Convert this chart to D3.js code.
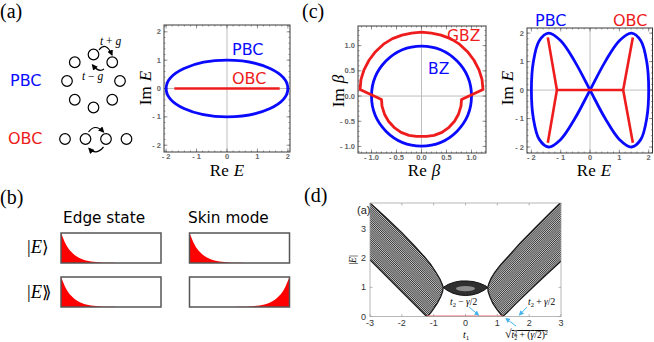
<!DOCTYPE html>
<html>
<head>
<meta charset="utf-8">
<script src="https://cdn.jsdelivr.net/npm/d3@7"></script>
<style>
  body { margin: 0; background: #fff; }
  svg { display: block; }
</style>
</head>
<body>
<div id="wrapper"></div>
<script>
// ---------------- data ----------------
// (a) Hatano-Nelson spectrum
const pbcEllipse = {cx: 0, cy: 0, rx: 2, ry: 1}
const obcSegment = [[-1.73, 0], [1.73, 0]]
const ticksA = [-2, -1, 0, 1, 2]

// (b) wavefunction profile along the chain (site -> amplitude)
const siteProfile = [1, 0.62, 0.38, 0.23, 0.14, 0.085, 0.052, 0.032, 0.02, 0.012, 0.007, 0.004, 0.002, 0.001, 0, 0, 0, 0, 0, 0, 0]

// (c) BZ / GBZ
const bzRadius = 1
const gbzPoints = [[1.23,0.13],[1.21,0.33],[1.15,0.52],[1.05,0.71],[0.92,0.88],[0.76,1.03],[0.58,1.14],[0.39,1.21],[0.2,1.25],[0,1.27],
    [-0.2,1.25],[-0.39,1.21],[-0.58,1.14],[-0.76,1.03],[-0.92,0.88],[-1.05,0.71],[-1.15,0.52],[-1.21,0.33],[-1.23,0.13],
    [-0.8,-0.07],[-0.79,-0.2],[-0.74,-0.36],[-0.66,-0.5],[-0.55,-0.62],[-0.41,-0.72],[-0.25,-0.78],[-0.1,-0.8],[0,-0.8],
    [0.1,-0.8],[0.25,-0.78],[0.41,-0.72],[0.55,-0.62],[0.66,-0.5],[0.74,-0.36],[0.79,-0.2],[0.8,-0.07]]
const ticksBeta = [-1, -0.5, 0, 0.5, 1]

// (c) figure-eight PBC spectrum and OBC branches
const pbcEight = [[2,0],[1.932,1],[1.732,1.732],[1.414,2],[1,1.732],[0.518,1],[0,0],[-0.518,-1],[-1,-1.732],[-1.414,-2],[-1.732,-1.732],[-1.932,-1],
    [-2,0],[-1.932,1],[-1.732,1.732],[-1.414,2],[-1,1.732],[-0.518,1],[0,0],[0.518,-1],[1,-1.732],[1.414,-2],[1.732,-1.732],[1.932,-1]]
const obcBranches = [
    [[-1.44,1.85],[-1.13,0],[-1.44,-1.85]],
    [[-1.13,0],[1.13,0]],
    [[1.46,1.85],[1.13,0],[1.46,-1.85]]
]

// (d) |E| vs t1 band envelopes
const bandLeft = [[-3.05,3.95],[-2.5,3.4],[-2,2.88],[-1.6,2.42],[-1.3,2.06],[-1.1,1.8],[-0.93,1.52],[-0.8,1.28],[-0.73,1.1],[-0.7,1.0],
    [-0.72,0.86],[-0.78,0.68],[-0.88,0.47],[-1.0,0.27],[-1.1,0.12],[-1.18,0.03],[-1.22,0],[-2.0,0.85],[-3.05,2.0]]
const bandRight = [[0.7,1.0],[0.73,1.12],[0.8,1.3],[0.92,1.52],[1.1,1.77],[1.35,2.07],[1.7,2.5],[2.2,3.06],[2.6,3.5],[3.05,3.98],
    [3.05,1.95],[2.5,1.4],[2.0,0.88],[1.6,0.46],[1.3,0.13],[1.17,0],[1.1,0.08],[0.98,0.25],[0.86,0.45],[0.77,0.67],[0.71,0.86]]
const bandLens = [[-0.7,1.0],[-0.55,1.1],[-0.35,1.18],[-0.15,1.22],[0.05,1.22],[0.25,1.2],[0.45,1.14],[0.6,1.07],[0.7,1.0],
    [0.58,0.9],[0.4,0.8],[0.2,0.74],[0,0.72],[-0.2,0.74],[-0.4,0.8],[-0.58,0.9]]
const lensCore = {cx: 0, cy: 0.96, rx: 0.3, ry: 0.09}
const zeroModes = [[-1.22,0],[1.17,0]]
const ticksT1 = [-3, -2, -1, 0, 1, 2, 3]
const ticksAbsE = [0, 1, 2, 3]

// ---------------- drawing ----------------
const BLUE = "#0a0aff"
const RED = "#ee1c1c"
const serif = "'Liberation Serif', 'DejaVu Serif', serif"
const sans = "'DejaVu Sans', 'Liberation Sans', sans-serif"

const svg = d3.select("#wrapper").append("svg")
    .attr("width", 654)
    .attr("height", 342)
svg.append("rect").attr("width", 654).attr("height", 342).attr("fill", "#fff")

const defs = svg.append("defs")
function marker(id, color, size) {
    defs.append("marker")
        .attr("id", id)
        .attr("viewBox", "0 0 10 10")
        .attr("refX", 8).attr("refY", 5)
        .attr("markerWidth", size).attr("markerHeight", size)
        .attr("orient", "auto")
        .append("path").attr("d", "M0,0 L10,5 L0,10 z").attr("fill", color)
}
marker("ahBlack", "#000", 5)
marker("ahBlue", "#45b5ee", 5)

// dense striped fill for the many eigenvalue curves
function hatch(id, angle) {
    const p = defs.append("pattern")
        .attr("id", id)
        .attr("patternUnits", "userSpaceOnUse")
        .attr("width", 4).attr("height", 1.5)
        .attr("patternTransform", "rotate(" + angle + ")")
    p.append("rect").attr("width", 4).attr("height", 1.5).attr("fill", "#c8c8c8")
    p.append("line").attr("x1", 0).attr("x2", 4).attr("y1", 0.4).attr("y2", 0.4)
        .attr("stroke", "#1e1e1e").attr("stroke-width", 0.75)
}
hatch("hatchL", 45)
hatch("hatchR", -45)

function panelLabel(x, y, t) {
    svg.append("text").attr("x", x).attr("y", y)
        .attr("font-family", serif).attr("font-size", 20).text(t)
}

// label like "Re E" / "Im β"
function mathLabel(x, y, pre, sym, rotate) {
    const t = svg.append("text")
        .attr("font-family", serif).attr("font-size", 17)
        .attr("text-anchor", "middle")
        .attr("transform", "translate(" + x + "," + y + ")" + (rotate ? " rotate(-90)" : ""))
    t.append("tspan").text(pre)
    t.append("tspan").attr("dx", 5).attr("font-style", "italic").text(sym)
}

// Mathematica style frame
function mmaFrame(x, y, xt, yt, fmt, minorStep) {
    const g = svg.append("g")
    const [x0, x1] = x.range(), [y0, y1] = y.range()
    g.append("line").attr("x1", x(0)).attr("x2", x(0)).attr("y1", y0).attr("y2", y1)
        .attr("stroke", "#b8b8b8").attr("stroke-width", 0.9)
    g.append("line").attr("x1", x0).attr("x2", x1).attr("y1", y(0)).attr("y2", y(0))
        .attr("stroke", "#b8b8b8").attr("stroke-width", 0.9)
    const minorX = d3.range(Math.ceil(x.domain()[0] / minorStep), Math.floor(x.domain()[1] / minorStep) + 1).map(i => i * minorStep)
    const minorY = d3.range(Math.ceil(y.domain()[0] / minorStep), Math.floor(y.domain()[1] / minorStep) + 1).map(i => i * minorStep)
    const tk = g.append("g").attr("stroke", "#555").attr("stroke-width", 0.6)
    minorX.forEach(v => {
        tk.append("line").attr("x1", x(v)).attr("x2", x(v)).attr("y1", y0).attr("y2", y0 - 1.5)
        tk.append("line").attr("x1", x(v)).attr("x2", x(v)).attr("y1", y1).attr("y2", y1 + 1.5)
    })
    minorY.forEach(v => {
        tk.append("line").attr("y1", y(v)).attr("y2", y(v)).attr("x1", x0).attr("x2", x0 + 1.5)
        tk.append("line").attr("y1", y(v)).attr("y2", y(v)).attr("x1", x1).attr("x2", x1 - 1.5)
    })
    xt.forEach(v => {
        tk.append("line").attr("x1", x(v)).attr("x2", x(v)).attr("y1", y0).attr("y2", y0 - 3.5)
        tk.append("line").attr("x1", x(v)).attr("x2", x(v)).attr("y1", y1).attr("y2", y1 + 3.5)
    })
    yt.forEach(v => {
        tk.append("line").attr("y1", y(v)).attr("y2", y(v)).attr("x1", x0).attr("x2", x0 + 3.5)
        tk.append("line").attr("y1", y(v)).attr("y2", y(v)).attr("x1", x1).attr("x2", x1 - 3.5)
    })
    g.append("rect").attr("x", x0).attr("y", y1).attr("width", x1 - x0).attr("height", y0 - y1)
        .attr("fill", "none").attr("stroke", "#3a3a3a").attr("stroke-width", 1)
    const lab = g.append("g").attr("font-family", "'Liberation Sans', sans-serif")
        .attr("font-size", 7.5).attr("fill", "#666").attr("font-weight", "bold")
    xt.forEach(v => lab.append("text").attr("x", x(v)).attr("y", y0 + 7)
        .attr("text-anchor", "middle").text(fmt(v)))
    yt.forEach(v => lab.append("text").attr("x", x0 - 3).attr("y", y(v) + 2.6)
        .attr("text-anchor", "end").text(fmt(v)))
}
const fmtInt = v => (v < 0 ? "- " + (-v) : "" + v)
const fmtDec = v => (v < 0 ? "- " + (-v).toFixed(1) : v.toFixed(1))

// ---------- panel (a) ----------
panelLabel(0, 18, "(a)")

const ringC = [93.5, 81], ringR = 26.5
d3.range(8).forEach(i => {
    const a = -Math.PI / 2 + i * Math.PI / 4
    svg.append("circle").attr("cx", ringC[0] + ringR * Math.cos(a)).attr("cy", ringC[1] + ringR * Math.sin(a))
        .attr("r", 5.3).attr("fill", "none").attr("stroke", "#000").attr("stroke-width", 1.2)
});
[65, 85.5, 106, 126.5].forEach(cx => {
    svg.append("circle").attr("cx", cx).attr("cy", 139).attr("r", 5.3)
        .attr("fill", "none").attr("stroke", "#000").attr("stroke-width", 1.2)
})
const hop = [
    "M99,50 Q106,41 112,55",
    "M104,69 Q99,73 92.5,65",
    "M88.5,132 Q95,123 103.5,132",
    "M103.5,147 Q96,156 89,148.5"
]
hop.forEach(d => svg.append("path").attr("d", d).attr("fill", "none")
    .attr("stroke", "#000").attr("stroke-width", 1.2).attr("marker-end", "url(#ahBlack)"))

function hopLabel(x, y, sign) {
    const t = svg.append("text").attr("x", x).attr("y", y)
        .attr("font-family", serif).attr("font-size", 11.5)
    t.append("tspan").attr("font-style", "italic").text("t")
    t.append("tspan").text(" " + sign + " ")
    t.append("tspan").attr("font-style", "italic").text("g")
}
hopLabel(100, 45, "+")
hopLabel(82, 80, "\u2212")

svg.append("text").attr("x", 10).attr("y", 86).attr("font-family", sans).attr("font-size", 16)
    .attr("fill", BLUE).text("PBC")
svg.append("text").attr("x", 8).attr("y", 144).attr("font-family", sans).attr("font-size", 16)
    .attr("fill", RED).text("OBC")

const xA = d3.scaleLinear().domain([-2.07, 2.07]).range([164, 290])
const yA = d3.scaleLinear().domain([-2.24, 2.24]).range([152, 25])
mmaFrame(xA, yA, ticksA, ticksA, fmtInt, 0.2)
svg.append("ellipse")
    .attr("cx", xA(pbcEllipse.cx)).attr("cy", yA(pbcEllipse.cy))
    .attr("rx", xA(pbcEllipse.rx) - xA(0)).attr("ry", yA(0) - yA(pbcEllipse.ry))
    .attr("fill", "none").attr("stroke", BLUE).attr("stroke-width", 2.8)
svg.append("path")
    .attr("d", d3.line().x(d => xA(d[0])).y(d => yA(d[1]))(obcSegment))
    .attr("stroke", RED).attr("stroke-width", 2.6)
svg.append("text").attr("x", 232).attr("y", 55).attr("font-family", sans).attr("font-size", 16)
    .attr("fill", BLUE).text("PBC")
svg.append("text").attr("x", 232).attr("y", 84).attr("font-family", sans).attr("font-size", 16)
    .attr("fill", RED).text("OBC")
mathLabel(151, 88, "Im", "E", true)
mathLabel(227, 176, "Re", "E", false)

// ---------- panel (b) ----------
panelLabel(0, 204, "(b)")
svg.append("text").attr("x", 63).attr("y", 223).attr("font-family", sans).attr("font-size", 15.3).text("Edge state")
svg.append("text").attr("x", 188).attr("y", 223).attr("font-family", sans).attr("font-size", 15.3).text("Skin mode")

function ketLabel(y, bra) {
    const t = svg.append("text").attr("x", 27).attr("y", y)
        .attr("font-family", serif).attr("font-size", 18.5)
    t.append("tspan").text("|")
    t.append("tspan").attr("font-style", "italic").text("E")
    t.append("tspan").attr("font-family", "'DejaVu Serif', serif").attr("font-size", 17).text(bra)
}
ketLabel(253, "\u27E9")
ketLabel(298, "\u27EB")

const boxes = [
    {x: 61, y: 233, flip: false},
    {x: 189.5, y: 233, flip: false},
    {x: 61, y: 277, flip: false},
    {x: 189.5, y: 277, flip: true}
]
const boxW = 100, boxH = 30
boxes.forEach(b => {
    const xs = d3.scaleLinear().domain([0, siteProfile.length - 1])
        .range(b.flip ? [b.x + boxW, b.x] : [b.x, b.x + boxW])
    const ys = d3.scaleLinear().domain([0, 1]).range([b.y + boxH, b.y])
    svg.append("path")
        .attr("d", d3.area().x((d, i) => xs(i)).y0(ys(0)).y1(d => ys(d)).curve(d3.curveMonotoneX)(siteProfile))
        .attr("fill", "#ff0000")
    svg.append("rect").attr("x", b.x).attr("y", b.y).attr("width", boxW).attr("height", boxH)
        .attr("fill", "none").attr("stroke", "#555").attr("stroke-width", 1.5)
})

// ---------- panel (c) left ----------
panelLabel(302, 18, "(c)")
const xB = d3.scaleLinear().domain([-1.27, 1.29]).range([358, 486])
const yB = d3.scaleLinear().domain([-1.13, 1.39]).range([153, 26])
mmaFrame(xB, yB, ticksBeta, ticksBeta, fmtDec, 0.1)
svg.append("circle").attr("cx", xB(0)).attr("cy", yB(0)).attr("r", xB(bzRadius) - xB(0))
    .attr("fill", "none").attr("stroke", BLUE).attr("stroke-width", 2.8)
svg.append("path")
    .attr("d", d3.line().x(d => xB(d[0])).y(d => yB(d[1])).curve(d3.curveLinearClosed)(gbzPoints))
    .attr("fill", "none").attr("stroke", RED).attr("stroke-width", 2.8).attr("stroke-linejoin", "round")
svg.append("text").attr("x", 447).attr("y", 41).attr("font-family", sans).attr("font-size", 15.5)
    .attr("fill", RED).text("GBZ")
svg.append("text").attr("x", 428).attr("y", 74).attr("font-family", sans).attr("font-size", 15.5)
    .attr("fill", BLUE).text("BZ")
mathLabel(344, 91, "Im", "\u03B2", true)
mathLabel(424, 176, "Re", "\u03B2", false)

// ---------- panel (c) right ----------
const xC = d3.scaleLinear().domain([-2.15, 2.13]).range([527, 652.5])
const yC = d3.scaleLinear().domain([-2.21, 2.18]).range([153, 28])
mmaFrame(xC, yC, ticksA, ticksA, fmtInt, 0.2)
svg.append("path")
    .attr("d", d3.line().x(d => xC(d[0])).y(d => yC(d[1])).curve(d3.curveCatmullRomClosed)(pbcEight))
    .attr("fill", "none").attr("stroke", BLUE).attr("stroke-width", 2.8)
obcBranches.forEach(br => svg.append("path")
    .attr("d", d3.line().x(d => xC(d[0])).y(d => yC(d[1]))(br))
    .attr("fill", "none").attr("stroke", RED).attr("stroke-width", 2.6).attr("stroke-linejoin", "round"))
svg.append("text").attr("x", 535).attr("y", 26).attr("font-family", sans).attr("font-size", 16)
    .attr("fill", BLUE).text("PBC")
svg.append("text").attr("x", 613).attr("y", 26).attr("font-family", sans).attr("font-size", 16)
    .attr("fill", RED).text("OBC")
mathLabel(513, 88, "Im", "E", true)
mathLabel(594, 176, "Re", "E", false)

// ---------- panel (d) ----------
panelLabel(304, 202, "(d)")
const xD = d3.scaleLinear().domain([-3, 3]).range([370, 561])
const yD = d3.scaleLinear().domain([0, 3.9]).range([316.5, 203])
defs.append("clipPath").attr("id", "clipD").append("rect")
    .attr("x", 370).attr("y", 203).attr("width", 191).attr("height", 113.5)
const gD = svg.append("g").attr("clip-path", "url(#clipD)")
const lineD = d3.line().x(d => xD(d[0])).y(d => yD(d[1])).curve(d3.curveLinearClosed)
gD.append("path").attr("d", lineD(bandLeft)).attr("fill", "url(#hatchL)")
    .attr("stroke", "#1a1a1a").attr("stroke-width", 1.3)
gD.append("path").attr("d", lineD(bandRight)).attr("fill", "url(#hatchR)")
    .attr("stroke", "#1a1a1a").attr("stroke-width", 1.3)
gD.append("path").attr("d", lineD(bandLens)).attr("fill", "#303030")
    .attr("stroke", "#111").attr("stroke-width", 1)
gD.append("ellipse").attr("cx", xD(lensCore.cx)).attr("cy", yD(lensCore.cy))
    .attr("rx", xD(lensCore.rx) - xD(0)).attr("ry", yD(0) - yD(lensCore.ry)).attr("fill", "#8c8c8c")
gD.append("path").attr("d", d3.line().x(d => xD(d[0])).y(d => yD(d[1]))(zeroModes))
    .attr("stroke", "#f26a6a").attr("stroke-width", 2.2)

// MATLAB-like box and ticks
const axD = svg.append("g").attr("stroke", "#999").attr("stroke-width", 0.7)
axD.append("rect").attr("x", 370).attr("y", 203).attr("width", 191).attr("height", 113.5).attr("fill", "none")
ticksT1.forEach(v => {
    axD.append("line").attr("x1", xD(v)).attr("x2", xD(v)).attr("y1", yD(0)).attr("y2", yD(0) - 2.5)
    axD.append("line").attr("x1", xD(v)).attr("x2", xD(v)).attr("y1", 203).attr("y2", 205.5)
})
ticksAbsE.forEach(v => {
    axD.append("line").attr("y1", yD(v)).attr("y2", yD(v)).attr("x1", 370).attr("x2", 372.5)
    axD.append("line").attr("y1", yD(v)).attr("y2", yD(v)).attr("x1", 561).attr("x2", 558.5)
})
const labD = svg.append("g").attr("font-family", "'Liberation Sans', sans-serif").attr("font-size", 9).attr("fill", "#333")
ticksT1.forEach(v => labD.append("text").attr("x", xD(v)).attr("y", 326).attr("text-anchor", "middle").text(v))
ticksAbsE.forEach(v => labD.append("text").attr("x", 366).attr("y", yD(v) + 3).attr("text-anchor", "end").text(v))
labD.append("text").attr("x", 357).attr("y", 214).attr("font-size", 11).attr("fill", "#222").text("(a)")

const absE = svg.append("text").attr("font-family", serif).attr("font-size", 9.5)
    .attr("text-anchor", "middle").attr("transform", "translate(356,260) rotate(-90)")
absE.append("tspan").text("|")
absE.append("tspan").attr("font-style", "italic").text("E")
absE.append("tspan").text("|")

const t1 = svg.append("text").attr("x", 463).attr("y", 338).attr("font-family", serif).attr("font-size", 10)
t1.append("tspan").attr("font-style", "italic").text("t")
t1.append("tspan").attr("font-size", 7).attr("dy", 2).text("1")

function tgLabel(x, y, sign) {
    const t = svg.append("text").attr("x", x).attr("y", y).attr("font-family", serif).attr("font-size", 9.5)
    t.append("tspan").attr("font-style", "italic").text("t")
    t.append("tspan").attr("font-size", 6.5).attr("dy", 2).text("2")
    t.append("tspan").attr("dy", -2).text(" " + sign + " ")
    t.append("tspan").attr("font-style", "italic").text("\u03B3")
    t.append("tspan").text("/2")
}
tgLabel(450, 305, "\u2212")
tgLabel(528, 305, "+")

const sq = svg.append("text").attr("x", 505).attr("y", 338).attr("font-family", serif).attr("font-size", 9.5)
sq.append("tspan").attr("font-size", 12).text("\u221A")
const under = sq.append("tspan").style("text-decoration", "overline")
under.append("tspan").attr("font-style", "italic").text("t")
under.append("tspan").attr("font-size", 6).attr("dy", 2).text("2")
under.append("tspan").attr("font-size", 6).attr("dx", -3).attr("dy", -5).text("2")
under.append("tspan").attr("dy", 3).text(" + (")
under.append("tspan").attr("font-style", "italic").text("\u03B3")
under.append("tspan").text("/2)")
under.append("tspan").attr("font-size", 6).attr("dy", -3).text("2")

const blueArrows = [
    [[469, 307], [478.5, 315]],
    [[527, 307], [519.5, 315]],
    [[516, 326], [506, 318.5]]
]
blueArrows.forEach(a => svg.append("path")
    .attr("d", d3.line()(a))
    .attr("stroke", "#45b5ee").attr("stroke-width", 1).attr("marker-end", "url(#ahBlue)"))
</script>
</body>
</html>
